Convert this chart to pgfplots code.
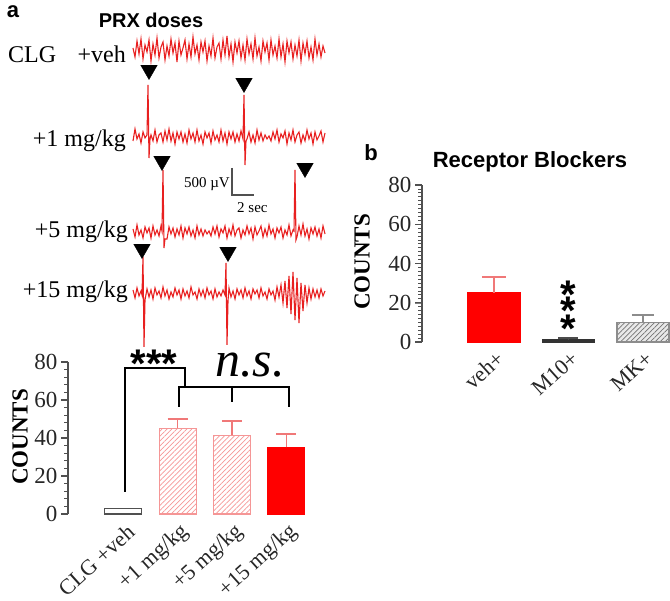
\documentclass[border=0pt]{standalone}
\usepackage{fontspec}
\setmainfont{Liberation Serif}
\newfontfamily\sansf{Liberation Sans}
\usepackage{pgfplots}
\pgfplotsset{compat=1.18}
\usetikzlibrary{patterns.meta}
\definecolor{trace}{RGB}{232,32,32}
\definecolor{pinkc}{RGB}{245,150,150}
\definecolor{errpink}{RGB}{240,120,120}
\definecolor{axgray}{RGB}{80,80,80}
\definecolor{barred}{RGB}{255,0,0}
\definecolor{mkfill}{RGB}{232,232,232}
\definecolor{mkline}{RGB}{140,140,140}
\begin{document}
\begin{tikzpicture}[x=1pt,y=1pt]
\path[use as bounding box] (0pt,0pt) rectangle (670pt,601pt);
% ---------------- EEG traces ----------------
\begin{axis}[at={(0pt,0pt)}, anchor=south west, scale only axis, width=670pt, height=601pt,
  xmin=0, xmax=670, ymin=0, ymax=601, hide axis, clip=false]
\addplot[trace, line width=1.1pt] coordinates {(133,553)(135,544)(137,560)(139,547)(141,562)(143,542)(145,556)(147,549)(149,561)(151,540)(153,557)(155,546)(157,563)(159,543)(161,554)(163,559)(165,541)(167,555)(169,545)(171,562)(173,548)(175,558)(177,539)(179,560)(181,546)(183,553)(185,561)(187,542)(189,557)(191,544)(193,564)(195,547)(197,556)(199,541)(201,559)(203,549)(205,560)(207,540)(209,555)(211,545)(213,563)(215,543)(217,554)(219,558)(221,542)(223,561)(225,546)(227,565)(229,544)(231,557)(233,539)(235,559)(237,548)(239,560)(241,543)(243,556)(245,541)(247,562)(249,547)(251,557)(253,542)(255,563)(257,545)(259,554)(261,540)(263,560)(265,549)(267,558)(269,541)(271,561)(273,546)(275,555)(277,543)(279,562)(281,544)(283,557)(285,539)(287,560)(289,548)(291,559)(293,542)(295,556)(297,545)(299,561)(301,540)(303,558)(305,547)(307,560)(309,543)(311,554)(313,541)(315,562)(317,546)(319,557)(321,544)(323,555)(325,548)};
\addplot[trace, line width=1.1pt] coordinates {(133,460)(135,472)(137,462)(139,467)(141,458)(143,469)(145,463)(147,466)(148,516)(149,443)(150,462)(151,466)(153,460)(155,471)(157,459)(159,466)(161,468)(163,459)(165,470)(167,461)(169,472)(171,460)(173,468)(175,457)(177,469)(179,462)(181,469)(183,459)(185,467)(187,458)(189,471)(191,462)(193,468)(195,459)(197,471)(199,460)(201,466)(203,457)(205,469)(207,463)(209,468)(211,458)(213,470)(215,461)(217,466)(219,459)(221,471)(223,460)(225,468)(227,457)(229,469)(231,462)(233,469)(235,459)(237,467)(239,460)(241,470)(243,462)(244,506)(245,436)(246,460)(247,462)(249,469)(251,459)(253,466)(255,458)(257,471)(259,461)(261,468)(263,460)(265,466)(267,462)(269,465)(271,460)(273,469)(275,462)(277,471)(279,459)(281,467)(283,463)(285,470)(287,457)(289,468)(291,461)(293,471)(295,459)(297,466)(299,469)(301,458)(303,466)(305,460)(307,471)(309,462)(311,468)(313,457)(315,469)(317,461)(319,465)(321,470)(323,459)(325,468)};
\addplot[trace, line width=1.1pt] coordinates {(133,372)(135,364)(137,376)(139,366)(141,371)(143,363)(145,374)(147,368)(149,373)(151,363)(153,375)(155,366)(157,371)(159,365)(161,375)(162,370)(163,431)(164,353)(165,362)(167,362)(169,374)(171,367)(173,373)(175,364)(177,372)(179,366)(181,375)(183,363)(185,373)(187,367)(189,374)(191,365)(193,371)(195,363)(197,375)(199,366)(201,372)(203,365)(205,371)(207,367)(209,370)(211,365)(213,374)(215,367)(217,375)(219,364)(221,372)(223,368)(225,375)(227,363)(229,372)(231,366)(233,376)(235,365)(237,371)(239,373)(241,363)(243,371)(245,366)(247,375)(249,367)(251,373)(253,362)(255,374)(257,366)(259,370)(261,375)(263,364)(265,372)(267,365)(269,376)(271,367)(273,372)(275,363)(277,373)(279,368)(281,374)(283,363)(285,371)(287,366)(289,376)(291,365)(293,371)(294,370)(295,431)(296,361)(297,364)(299,375)(301,366)(303,377)(305,365)(307,372)(309,362)(311,373)(313,367)(315,374)(317,365)(319,372)(321,363)(323,375)(325,367)};
\addplot[trace, line width=1.1pt] coordinates {(133,311)(135,303)(137,313)(139,305)(141,310)(142,306)(143,344)(144,254)(145,301)(147,312)(149,304)(151,311)(153,302)(155,313)(157,306)(159,310)(161,303)(163,314)(165,305)(167,311)(169,302)(171,309)(173,304)(175,313)(177,306)(179,311)(181,302)(183,312)(185,305)(187,310)(189,303)(191,314)(193,306)(195,309)(197,302)(199,312)(201,305)(203,311)(205,303)(207,313)(209,306)(211,310)(213,302)(215,312)(217,304)(219,309)(221,305)(223,311)(225,306)(226,338)(227,256)(228,300)(229,313)(231,304)(233,310)(235,302)(237,312)(239,306)(241,311)(243,303)(245,313)(247,305)(249,310)(251,302)(253,312)(255,307)(257,311)(259,303)(261,313)(263,305)(265,309)(267,302)(269,312)(271,306)(273,310)(275,301)(277,314)(279,304)(281,316)(283,298)(285,320)(287,293)(289,325)(291,287)(293,329)(295,281)(297,323)(299,278)(301,318)(303,290)(305,316)(307,298)(309,313)(311,302)(313,312)(315,304)(317,311)(319,303)(321,312)(323,305)(325,310)};
\addplot[only marks, mark=triangle*, mark size=9.5pt, mark options={rotate=180, fill=black, draw=black}] coordinates {(149,531)(244,518)(162,440)(305,433)(142,352)(228,349)};
\end{axis}
% scale bar
\draw[axgray, line width=1.2pt] (232,433) -- (232,406) -- (254,406);
\node[anchor=base east, inner sep=0pt, font=\fontsize{15}{15}\selectfont] at (230,413) {500 µV};
\node[anchor=base west, inner sep=0pt, font=\fontsize{15}{15}\selectfont] at (237,388) {2 sec};
% row labels
\node[anchor=base west, inner sep=0pt, font=\fontsize{24}{24}\selectfont] at (8,538) {CLG};
\node[anchor=base east, inner sep=0pt, font=\fontsize{24}{24}\selectfont] at (126,538) {+veh};
\node[anchor=base east, inner sep=0pt, font=\fontsize{24}{24}\selectfont] at (126,454) {+1 mg/kg};
\node[anchor=base east, inner sep=0pt, font=\fontsize{24}{24}\selectfont] at (128,363) {+5 mg/kg};
\node[anchor=base east, inner sep=0pt, font=\fontsize{24}{24}\selectfont] at (128,303) {+15 mg/kg};
\node[inner sep=0pt, font=\sansf\bfseries\fontsize{22}{22}\selectfont] at (13,589) {a};
\node[inner sep=0pt, font=\sansf\bfseries\fontsize{20}{20}\selectfont] at (151,581) {PRX doses};
% ---------------- panel a bars ----------------
\begin{axis}[at={(68pt,87pt)}, anchor=south west, scale only axis, width=245.4pt, height=152pt,
  xmin=-1.02, xmax=3.5, ymin=0, ymax=80, clip=false,
  axis y line*=left, axis x line*=bottom, x axis line style={draw=none},
  y axis line style={axgray, line width=1.2pt},
  xtick={0,1,2,3}, xticklabels={CLG +veh,+1 mg/kg,+5 mg/kg,+15 mg/kg},
  x tick style={draw=none},
  ytick={0,20,40,60,80},
  tick align=outside, major tick length=7pt,
  /pgf/number format/assume math mode=true,
  yticklabel style={font=\fontsize{23}{23}\selectfont, text=black!85},
  xticklabel style={font=\fontsize{22}{22}\selectfont, rotate=42, anchor=east, text=black!85, xshift=4pt, yshift=-11pt},
]
\addplot[ybar, bar width=37pt, bar shift=0pt, fill=white, draw=axgray, line width=1.2pt] coordinates {(0,3)};
\addplot[ybar, bar width=37pt, bar shift=0pt, draw=pinkc, line width=1.2pt,
  pattern={Lines[angle=45,distance=3.5pt,line width=0.7pt]}, pattern color=pinkc,
  error bars/.cd, y dir=plus, y explicit, error bar style={errpink, line width=1.5pt},
  error mark options={rotate=90, errpink, mark size=10pt, line width=1.5pt}]
  coordinates {(1,45) +- (0,5) (2,41.5) +- (0,7.5)};
\addplot[ybar, bar width=37pt, bar shift=0pt, fill=barred, draw=barred, line width=1.2pt,
  error bars/.cd, y dir=plus, y explicit, error bar style={errpink, line width=1.5pt},
  error mark options={rotate=90, errpink, mark size=10pt, line width=1.5pt}]
  coordinates {(3,35) +- (0,7)};
\pgfplotsinvokeforeach{0,20,40,60,80}{\draw[axgray, line width=1.1pt] (axis cs:-1.02,#1) -- ++(-7pt,0pt);}
\pgfplotsinvokeforeach{4,8,...,76}{\draw[axgray, line width=0.9pt] (axis cs:-1.02,#1) -- ++(-4pt,0pt);}
\end{axis}
\node[rotate=90, inner sep=0pt, font=\bfseries\fontsize{23}{23}\selectfont] at (20,164) {COUNTS};
% brackets
\draw[black, line width=1.3pt] (125,109) -- (125,233) -- (185,233) -- (185,214);
\draw[black, line width=1.3pt] (179,194) -- (179,214) -- (289,214) -- (289,194);
\draw[black, line width=1.3pt] (232,214) -- (232,199);
\node[anchor=base, inner sep=0pt, font=\sansf\bfseries\fontsize{40}{40}\selectfont] at (154,223) {***};
\node[anchor=base west, inner sep=0pt, font=\itshape\fontsize{50}{50}\selectfont] at (215,224) {n.s.};
% ---------------- panel b ----------------
\node[inner sep=0pt, font=\sansf\bfseries\fontsize{22}{22}\selectfont] at (371,448) {b};
\node[anchor=base, inner sep=0pt, font=\sansf\bfseries\fontsize{22}{22}\selectfont] at (530,433) {Receptor Blockers};
\begin{axis}[at={(422pt,259pt)}, anchor=south west, scale only axis, width=247.8pt, height=157pt,
  xmin=-0.966, xmax=2.36, ymin=0, ymax=80, clip=false,
  axis y line*=left, axis x line*=bottom, x axis line style={draw=none},
  y axis line style={axgray, line width=1.2pt},
  xtick={0,1,2}, xticklabels={veh+,M10+,MK+},
  x tick style={draw=none},
  ytick={0,20,40,60,80},
  tick align=outside, major tick length=7pt,
  /pgf/number format/assume math mode=true,
  yticklabel style={font=\fontsize{23}{23}\selectfont, text=black!85},
  xticklabel style={font=\fontsize{22}{22}\selectfont, rotate=42, anchor=east, text=black!85, xshift=4pt, yshift=-9pt},
]
\addplot[ybar, bar width=52pt, bar shift=0pt, fill=barred, draw=barred, line width=1.2pt,
  error bars/.cd, y dir=plus, y explicit, error bar style={errpink, line width=1.5pt},
  error mark options={rotate=90, errpink, mark size=12pt, line width=1.5pt}]
  coordinates {(0,25) +- (0,8)};
\addplot[ybar, bar width=52pt, bar shift=0pt, fill=white, draw=black!80, line width=1.5pt,
  error bars/.cd, y dir=plus, y explicit, error bar style={black!70, line width=1.2pt},
  error mark options={rotate=90, black!70, mark size=10pt, line width=1.2pt}]
  coordinates {(1,1) +- (0,1)};
\addplot[ybar, bar width=52pt, bar shift=0pt, fill=mkfill, draw=mkline, line width=1.2pt] coordinates {(2,10)};
\addplot[ybar, bar width=52pt, bar shift=0pt, draw=mkline, line width=1.2pt,
  pattern={Lines[angle=45,distance=3.5pt,line width=0.7pt]}, pattern color=black!55,
  error bars/.cd, y dir=plus, y explicit, error bar style={mkline, line width=1.5pt},
  error mark options={rotate=90, mkline, mark size=11pt, line width=1.5pt}]
  coordinates {(2,10) +- (0,3.8)};
\pgfplotsinvokeforeach{0,20,40,60,80}{\draw[axgray, line width=1.1pt] (axis cs:-0.966,#1) -- ++(-7pt,0pt);}
\pgfplotsinvokeforeach{2,4,...,78}{\draw[axgray, line width=0.8pt] (axis cs:-0.966,#1) -- ++(-4pt,0pt);}
\end{axis}
\node[rotate=90, inner sep=0pt, font=\bfseries\fontsize{23}{23}\selectfont] at (362,339) {COUNTS};
\node[anchor=base, inner sep=0pt, font=\sansf\bfseries\fontsize{40}{40}\selectfont] at (568,292) {*};
\node[anchor=base, inner sep=0pt, font=\sansf\bfseries\fontsize{40}{40}\selectfont] at (568,276) {*};
\node[anchor=base, inner sep=0pt, font=\sansf\bfseries\fontsize{40}{40}\selectfont] at (568,258) {*};
\end{tikzpicture}
\end{document}
